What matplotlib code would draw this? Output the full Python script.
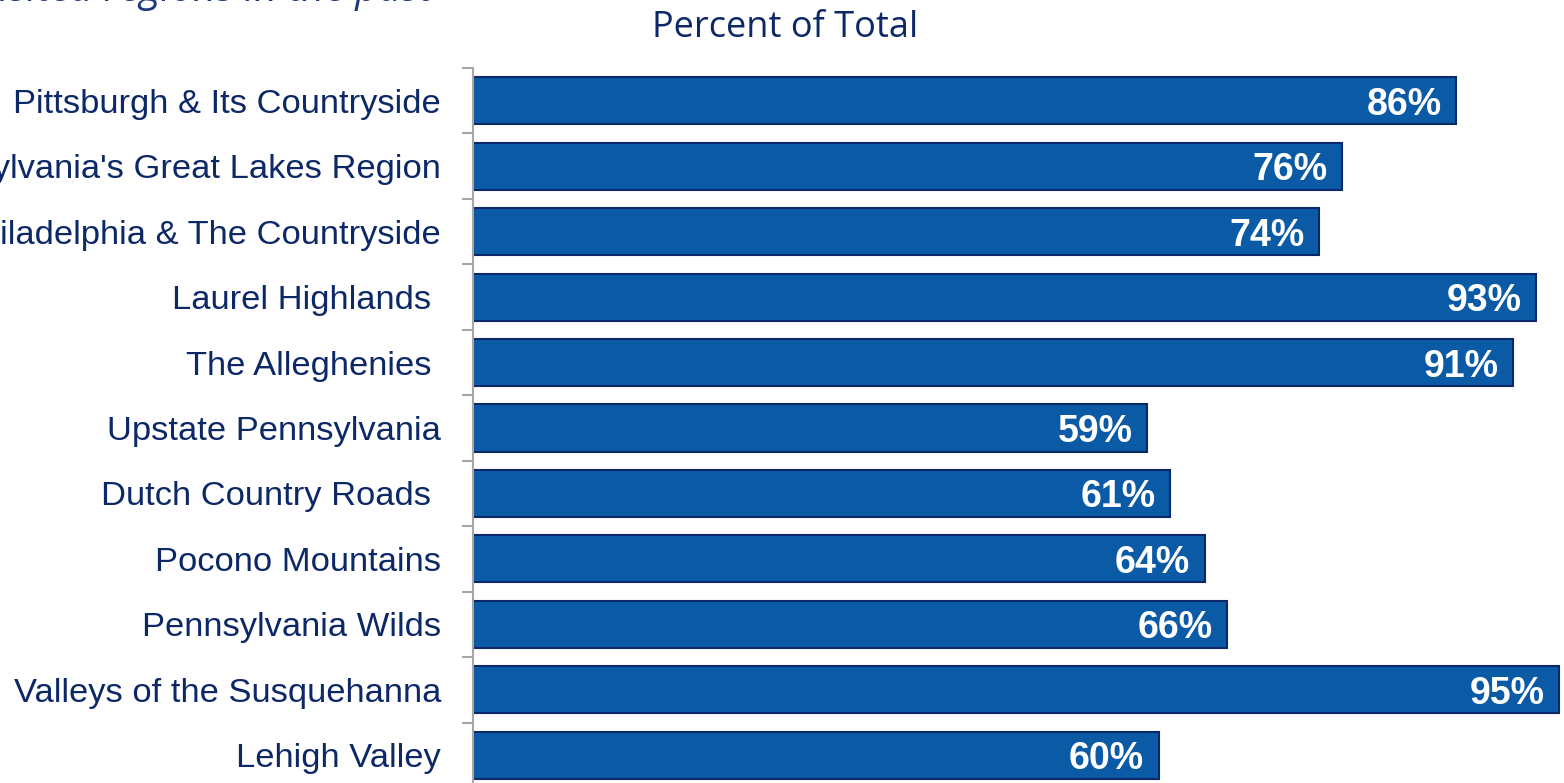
import numpy as np
import matplotlib.pyplot as plt

regions = [
    "Pittsburgh & Its Countryside",
    "Pennsylvania's Great Lakes Region",
    "Philadelphia & The Countryside",
    "Laurel Highlands ",
    "The Alleghenies ",
    "Upstate Pennsylvania",
    "Dutch Country Roads ",
    "Pocono Mountains",
    "Pennsylvania Wilds",
    "Valleys of the Susquehanna",
    "Lehigh Valley",
]
percent = [86, 76, 74, 93, 91, 59, 61, 64, 66, 95, 60]

navy = "#0c2866"
bar_fill = "#0a5aa6"

fig = plt.figure(figsize=(15.64, 7.83), dpi=100)
W, H = 1564.0, 783.0
ax = fig.add_axes([473 / W, -5 / H, 1 - 473 / W, (788 - 68) / H])

y = np.arange(len(regions))
ax.barh(y, percent, height=0.72, color=bar_fill, edgecolor=navy, linewidth=1.5)

for yi, v in zip(y, percent):
    ax.annotate(f"{v}%", (v, yi), xytext=(-10.5, 0), textcoords="offset points",
                ha="right", va="center_baseline", color="white", fontsize=27,
                fontweight="bold", family="Liberation Sans")

ax.set_xlim(0, 95.45)
ax.set_ylim(len(regions) - 0.5, -0.5)

ax.set_yticks(y)
ax.set_yticklabels(regions, fontsize=24.8, family="Liberation Sans", color=navy)
ax.tick_params(axis="y", which="major", length=0, pad=23)
ax.set_yticks(np.arange(len(regions) + 1) - 0.5, minor=True)
ax.tick_params(axis="y", which="minor", length=8, width=1.5, color="#a6a6a6")
ax.xaxis.set_visible(False)

for s in ["top", "right", "bottom"]:
    ax.spines[s].set_visible(False)
ax.spines["left"].set_color("#a6a6a6")
ax.spines["left"].set_linewidth(1.5)

fig.text(785 / W, 1 - 37 / H, "Percent of Total", ha="center", va="baseline",
         fontsize=26, family="Open Sans", color=navy)
fig.text(432 / W, 1 - 1 / H, "Visited regions in the past", ha="right",
         va="baseline", fontsize=29, family="Open Sans", style="italic",
         color="#1f3b7a")

fig.savefig("out.png", dpi=100)
